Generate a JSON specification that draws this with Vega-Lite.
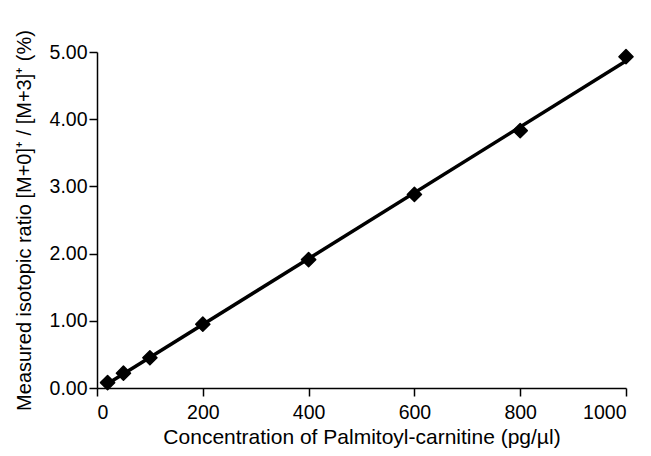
{
  "$schema": "https://vega.github.io/schema/vega-lite/v6.json",
  "autosize": "none",
  "width": 529,
  "height": 336,
  "padding": {"left": 97, "top": 52, "right": 25, "bottom": 68},
  "background": "white",
  "data": {"values": [
    {"conc": 20, "ratio": 0.08},
    {"conc": 50, "ratio": 0.22},
    {"conc": 100, "ratio": 0.45},
    {"conc": 200, "ratio": 0.95},
    {"conc": 400, "ratio": 1.91},
    {"conc": 600, "ratio": 2.88},
    {"conc": 800, "ratio": 3.83},
    {"conc": 1000, "ratio": 4.93}
  ]},
  "config": {
    "view": {"stroke": null},
    "axis": {
      "grid": false,
      "domainColor": "black",
      "domainWidth": 1.5,
      "tickColor": "black",
      "tickWidth": 1.5,
      "tickSize": 8,
      "labelColor": "black",
      "titleColor": "black",
      "labelFont": "Liberation Sans",
      "titleFont": "Liberation Sans",
      "labelFontSize": 19.5,
      "titleFontSize": 20,
      "titleFontWeight": "normal"
    }
  },
  "layer": [
    {
      "transform": [{"regression": "ratio", "on": "conc", "extent": [20, 1000]}],
      "mark": {"type": "line", "color": "black", "strokeWidth": 3.5},
      "encoding": {
        "x": {"field": "conc", "type": "quantitative"},
        "y": {"field": "ratio", "type": "quantitative"}
      }
    },
    {
      "mark": {"type": "point", "shape": "diamond", "filled": true, "color": "black", "opacity": 1, "size": 200, "stroke": "black", "strokeWidth": 1.5, "strokeJoin": "round"},
      "encoding": {
        "x": {"field": "conc", "type": "quantitative",
              "scale": {"domain": [0, 1000], "nice": false},
              "axis": {"values": [0, 200, 400, 600, 800, 1000], "format": "d", "title": "Concentration of Palmitoyl-carnitine (pg/µl)", "titleFontSize": 21, "labelPadding": 7, "titlePadding": 5}},
        "y": {"field": "ratio", "type": "quantitative",
              "scale": {"domain": [0, 5], "nice": false},
              "axis": {"values": [0, 1, 2, 3, 4, 5], "format": ".2f", "title": "Measured isotopic ratio [M+0]⁺ / [M+3]⁺ (%)", "labelPadding": 2, "titlePadding": 15}}
      }
    }
  ]
}
